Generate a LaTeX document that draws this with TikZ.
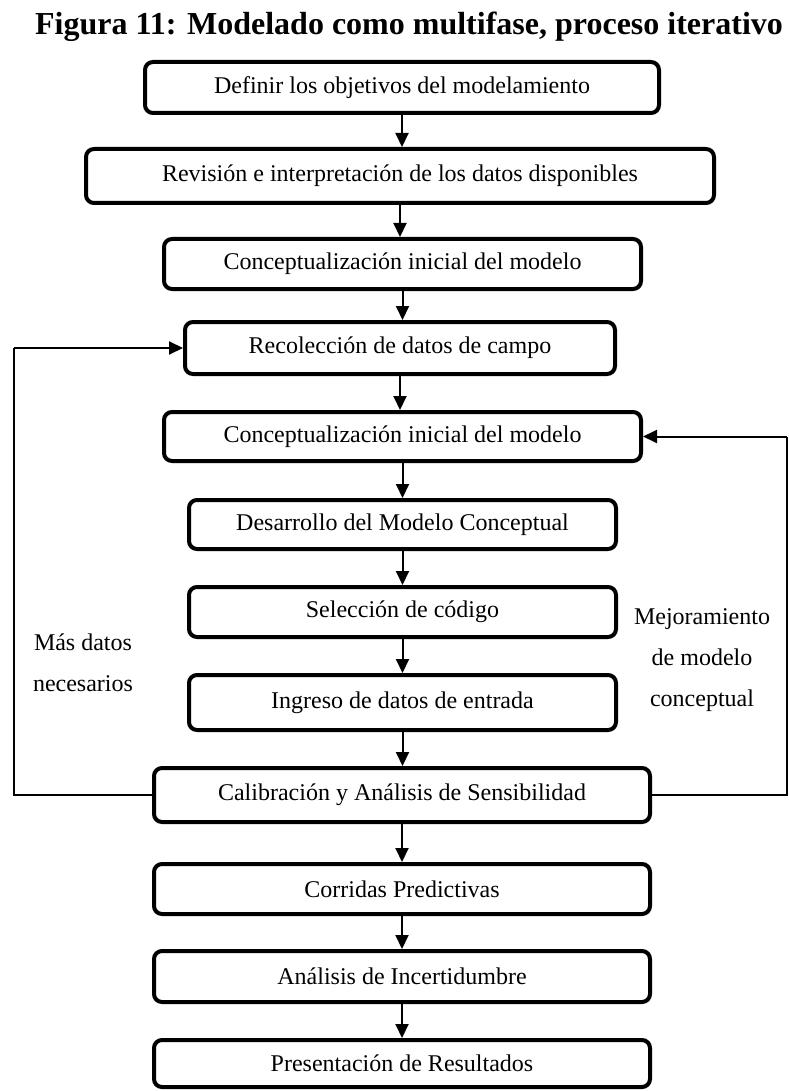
\documentclass[tikz,border=0pt]{standalone}
\usepackage{fontspec}
\setmainfont{Liberation Serif}
\usetikzlibrary{arrows.meta}
\tikzset{
  stepbox/.style={draw=black, line width=2pt, rounded corners=4pt, fill=white,
    inner sep=0pt, align=center, font=\fontsize{12}{14}\selectfont},
  flow/.style={line width=1pt, -{Triangle[width=6.5pt,length=7pt]}},
  loopline/.style={line width=1pt},
  lbl/.style={align=center, inner sep=0pt, font=\fontsize{12}{20.5}\selectfont},
}
\begin{document}
\begin{tikzpicture}[x=0.5pt,y=-0.5pt]
\useasboundingbox (0,0) rectangle (788,1091);
\node[font=\bfseries\fontsize{16}{19}\selectfont, inner sep=0pt] (title) at (409,27) {Figura 11: Modelado como multifase, proceso iterativo};

\node[stepbox, minimum width=257pt, minimum height=25.5pt] (b1) at (402,87.5) {Definir los objetivos del modelamiento};
\node[stepbox, minimum width=314pt, minimum height=27pt] (b2) at (400,176) {Revisión e interpretación de los datos disponibles};
\node[stepbox, minimum width=238.5pt, minimum height=25pt] (b3) at (402.5,264) {Conceptualización inicial del modelo};
\node[stepbox, minimum width=215pt, minimum height=26pt] (b4) at (400,348) {Recolección de datos de campo};
\node[stepbox, minimum width=238.5pt, minimum height=24.5pt] (b5) at (402.5,436.5) {Conceptualización inicial del modelo};
\node[stepbox, minimum width=213.5pt, minimum height=24.5pt] (b6) at (402.5,524.5) {Desarrollo del Modelo Conceptual};
\node[stepbox, minimum width=213.5pt, minimum height=25pt] (b7) at (402.5,612) {Selección de código};
\node[stepbox, minimum width=213.5pt, minimum height=27.5pt] (b8) at (402.5,702.5) {Ingreso de datos de entrada};
\node[stepbox, minimum width=248pt, minimum height=27pt] (b9) at (402,795) {Calibración y Análisis de Sensibilidad};
\node[stepbox, minimum width=248pt, minimum height=25pt] (b10) at (402,889) {Corridas Predictivas};
\node[stepbox, minimum width=248pt, minimum height=25.5pt] (b11) at (402,976.5) {Análisis de Incertidumbre};
\node[stepbox, minimum width=248pt, minimum height=23.5pt] (b12) at (402,1063.5) {Presentación de Resultados};

\foreach \a/\b in {b1/b2,b2/b3,b3/b4,b4/b5,b5/b6,b6/b7,b7/b8,b8/b9,b9/b10,b10/b11,b11/b12}{
  \draw[flow] (\a.south) -- (\a.south |- \b.north);
}

\coordinate (L) at (14,0);
\coordinate (R) at (787,0);
\draw[loopline] (b9.west) -- (b9.west -| L) -- (L |- b4.west);
\draw[flow] (L |- b4.west) -- (b4.west);
\draw[loopline] (b9.east) -- (b9.east -| R) -- (R |- b5.east);
\draw[flow] (R |- b5.east) -- (b5.east);

\node[lbl] (more) at (83,663) {Más datos\\necesarios};
\node[lbl] (impr) at (702,660) {Mejoramiento\\de modelo\\conceptual};
\end{tikzpicture}
\end{document}
